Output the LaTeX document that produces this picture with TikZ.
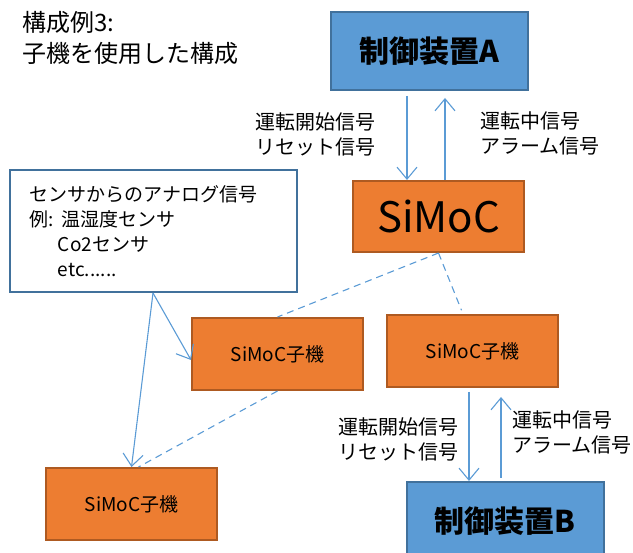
\documentclass[tikz,border=0pt]{standalone}
\usepackage{fontspec}
\setmainfont{Noto Sans CJK JP}
\usetikzlibrary{arrows.meta}
\definecolor{ctrlfill}{HTML}{5B9BD5}
\definecolor{ctrlline}{HTML}{41719C}
\definecolor{simocfill}{HTML}{ED7D31}
\definecolor{simocline}{HTML}{AE5A21}
\begin{document}
\begin{tikzpicture}[x=1pt,y=-1pt,>={Straight Barb[length=12pt,width=20pt]},
ctrl/.style={draw=ctrlline,line width=2pt,fill=ctrlfill,minimum width=197pt,minimum height=78pt,
  font=\fontsize{30}{36}\selectfont\bfseries},
simoc/.style={draw=simocline,line width=2pt,fill=simocfill,minimum width=171pt,minimum height=72pt},
child/.style={simoc,font=\fontsize{19}{22}\selectfont},
sig/.style={draw=ctrlfill,line width=1.1pt},
link/.style={sig,dash pattern=on 7pt off 5pt},
lbl/.style={anchor=west,align=left,inner sep=0pt,font=\fontsize{20}{25}\selectfont}]
\clip (0,0) rectangle (633,553);
\node[anchor=west,align=left,inner sep=0pt,font=\fontsize{24}{31}\selectfont] (title) at (22,38)
  {構成例3:\\子機を使用した構成};
\node[ctrl] (ctrlA) at (429.5,51) {制御装置A};
\node[simoc,minimum height=71pt,font=\fontsize{42}{48}\selectfont] (main) at (438.5,216.5) {SiMoC};
\node[draw=ctrlline,line width=2pt,fill=white,minimum width=287pt,minimum height=122pt,
  text width=247pt,align=left,font=\fontsize{19}{25}\selectfont] (sensor) at (153.5,231)
  {センサからのアナログ信号\\\makebox[32pt][l]{例:}温湿度センサ\\\hspace*{28pt}Co2センサ\\\hspace*{28pt}etc......};
\node[child] (sub1) at (277.5,354) {SiMoC子機};
\node[child] (sub2) at (472.5,351) {SiMoC子機};
\node[child] (sub3) at (131.5,504) {SiMoC子機};
\node[ctrl] (ctrlB) at (505,521) {制御装置B};

\draw[sig,->] ([xshift=-22.5pt,yshift=-5pt]ctrlA.south) -- ([xshift=-31.5pt]main.north);
\draw[sig,->] ([xshift=6.5pt]main.north) -- ([xshift=15.5pt,yshift=-7pt]ctrlA.south);
\node[lbl] (cmdA) at (255,134) {運転開始信号\\リセット信号};
\node[lbl] (stA) at (480,133) {運転中信号\\アラーム信号};

\draw[link] (main.south) -- (sub1.north);
\draw[link,shorten >=4pt] (main.south) -- ([xshift=-9.5pt]sub2.north);
\draw[link] (sub1.south) -- ([xshift=7pt]sub3.north);
\draw[sig,->] ([xshift=-0.5pt]sensor.south) -- ([yshift=-6pt]sub1.west);
\draw[sig,->] ([xshift=-0.5pt]sensor.south) -- (sub3.north);

\draw[sig,->] ([xshift=-3.5pt,yshift=-4pt]sub2.south) -- ([xshift=-36pt]ctrlB.north);
\draw[sig,->] ([xshift=-4pt,yshift=3pt]ctrlB.north) -- ([xshift=28.5pt,yshift=-9pt]sub2.south);
\node[lbl] (cmdB) at (338,439.5) {運転開始信号\\リセット信号};
\node[lbl] (stB) at (512,432) {運転中信号\\アラーム信号};
\end{tikzpicture}
\end{document}
